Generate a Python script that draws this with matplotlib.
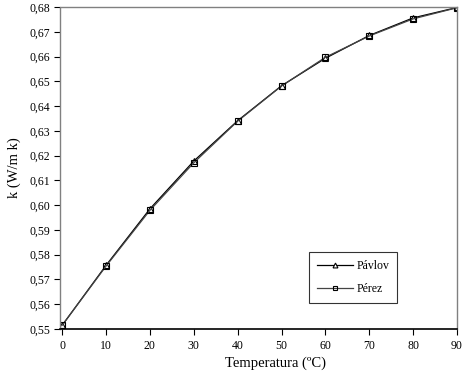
import matplotlib
matplotlib.use("Agg")
import matplotlib.pyplot as plt
from matplotlib.ticker import FuncFormatter

temperatura = [0, 10, 20, 30, 40, 50, 60, 70, 80, 90]
k_pavlov = [0.5515, 0.5757, 0.5985, 0.6178, 0.6341, 0.6482, 0.6593, 0.6685, 0.6756, 0.6798]
k_perez = [0.5515, 0.5754, 0.5979, 0.6171, 0.6339, 0.6481, 0.6597, 0.6683, 0.6752, 0.6797]
x_ticks = [0, 10, 20, 30, 40, 50, 60, 70, 80, 90]
y_ticks = [0.55, 0.56, 0.57, 0.58, 0.59, 0.60, 0.61, 0.62, 0.63, 0.64, 0.65, 0.66, 0.67, 0.68]

plt.rcParams['font.family'] = ['Liberation Serif', 'DejaVu Serif']

fig = plt.figure(figsize=(4.73, 3.81), dpi=100)
ax = fig.add_axes([60/473, 1-329/381, (457-60)/473, (329-7)/381])

ax.plot(temperatura, k_pavlov, color='black', lw=0.9, marker='^', ms=5,
        mfc='white', mec='black', mew=0.8, label='Pávlov')
ax.plot(temperatura, k_perez, color='#444444', lw=0.9, marker='s', ms=5,
        mfc='none', mec='black', mew=0.8, label='Pérez')

ax.set_xlim(-0.5, 90)
ax.set_ylim(0.55, 0.68)
ax.set_xticks(x_ticks)
ax.set_yticks(y_ticks)
ax.yaxis.set_major_formatter(FuncFormatter(lambda v, p: f"{v:.2f}".replace('.', ',')))
ax.tick_params(axis='both', labelsize=8.5, length=4, width=0.8, direction='out')
ax.tick_params(axis='x', pad=4)
ax.tick_params(axis='y', pad=3)

for s in ['top', 'right']:
    ax.spines[s].set_color('#808080')
    ax.spines[s].set_linewidth(1.0)
ax.spines['left'].set_color('#808080')
ax.spines['left'].set_linestyle((0, (1, 1)))
ax.spines['left'].set_linewidth(1.0)
ax.spines['bottom'].set_color('black')
ax.spines['bottom'].set_linewidth(1.2)

ax.set_xlabel('Temperatura (ºC)', fontsize=10.5, labelpad=4)
ax.xaxis.set_label_coords((275-60)/397, -0.085)
ax.set_ylabel('k (W/m k)', fontsize=10.5, labelpad=6)

leg = ax.legend(loc='upper left', bbox_to_anchor=((309-60)/397, 1-(252-7)/322),
                fontsize=8.5, frameon=True, fancybox=False, edgecolor='black',
                borderpad=0.7, labelspacing=0.9, handlelength=3.0, handletextpad=0.3,
                borderaxespad=0, markerscale=0.7)
leg.get_frame().set_linewidth(0.8)

fig.savefig('out.png', dpi=100)
